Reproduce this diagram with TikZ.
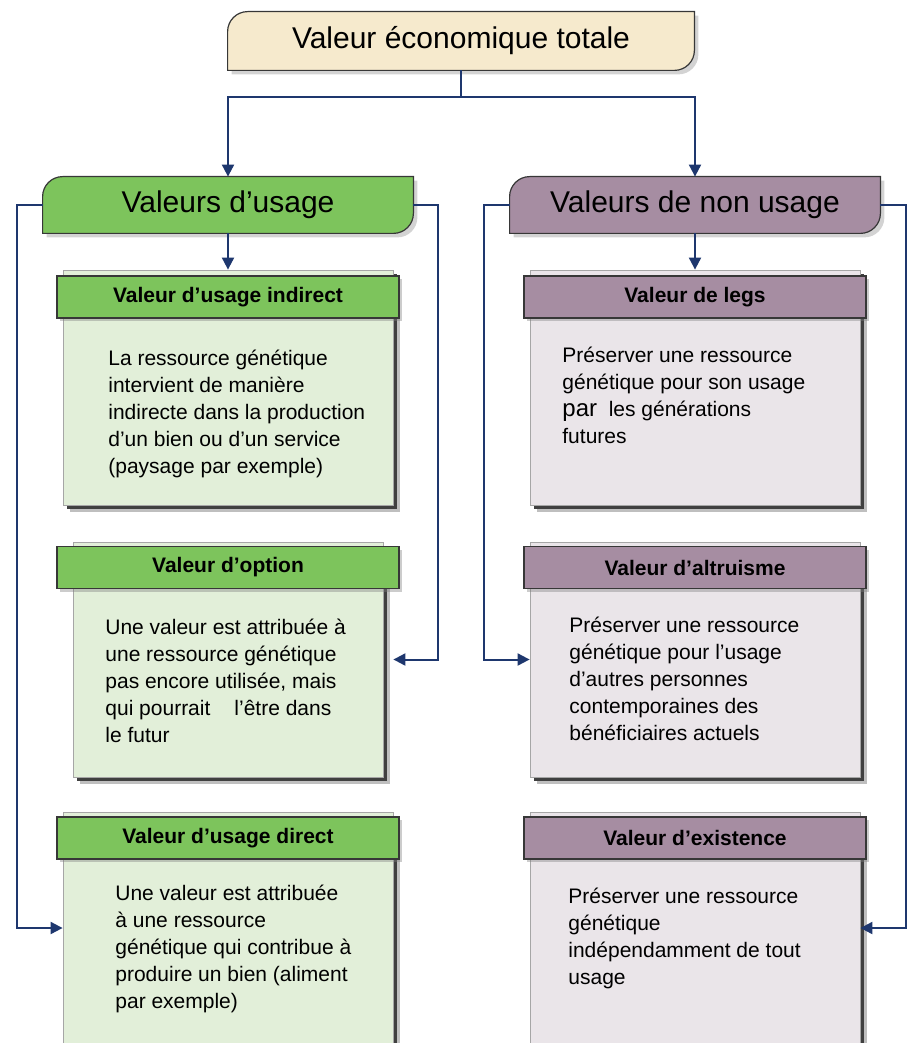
\documentclass[tikz,border=0pt]{standalone}
\usepackage{fontspec}
\setmainfont{Liberation Sans}
\usetikzlibrary{arrows.meta,positioning,shadows,backgrounds}
\definecolor{mynavy}{RGB}{30,55,110}
\definecolor{myedge}{RGB}{55,55,55}
\definecolor{mybeige}{RGB}{246,234,205}
\definecolor{mygreen}{RGB}{125,196,92}
\definecolor{mylightgreen}{RGB}{226,239,217}
\definecolor{mypurple}{RGB}{166,141,162}
\definecolor{mylightpurple}{RGB}{234,229,233}

\begin{document}
\begin{tikzpicture}[x=0.5pt, y=-0.5pt,
    leaf path/.style={insert path={(#1.south west) -- ([yshift=-10pt]#1.north west)
        arc[start angle=180, end angle=90, radius=10pt] -- (#1.north east)
        -- ([yshift=10pt]#1.south east) arc[start angle=0, end angle=-90, radius=10pt] -- cycle}},
    leaf/.style={draw=myedge, line width=0.6pt,
        drop shadow={shadow xshift=2pt, shadow yshift=-2pt, opacity=.35}},
    title/.style={inner sep=0pt, minimum width=185pt, minimum height=28pt,
        font=\fontsize{15}{18}\selectfont},
    sheet/.style={draw=black!35, line width=0.4pt, minimum width=165pt,
        minimum height=117.5pt, inner sep=0pt,
        general shadow={fill=black!25, shadow xshift=3.5pt, shadow yshift=-3.5pt},
        general shadow={fill=black!75, shadow xshift=2pt, shadow yshift=-2pt}},
    tab/.style={draw=myedge, line width=0.6pt, minimum width=171pt, minimum height=21pt,
        inner sep=0pt, font=\fontsize{10.5}{12}\selectfont\bfseries,
        drop shadow={shadow xshift=1.5pt, shadow yshift=-1.5pt, opacity=.4}},
    body/.style={anchor=base west, inner sep=0pt, align=left,
        font=\fontsize{10.5}{13.5}\selectfont},
    flow/.style={-{Triangle[length=6pt, width=6pt]}, line width=1pt, mynavy}
]
\useasboundingbox (0,0) rectangle (911,1043);

\node[title, minimum width=233pt, minimum height=29pt] (vet) at (461,41) {Valeur économique totale};
\node[title] (vu) at (228,205) {Valeurs d’usage};
\node[title] (vnu) at (695,205) {Valeurs de non usage};
\begin{scope}[on background layer]
\filldraw[leaf, fill=mybeige, leaf path=vet];
\filldraw[leaf, fill=mygreen, leaf path=vu];
\filldraw[leaf, fill=mypurple, leaf path=vnu];
\end{scope}

\node[sheet, fill=mylightgreen] (b1) at (228,387.5) {};
\node[tab, fill=mygreen] (h1) at (228,297) {Valeur d’usage indirect};
\node[body] (t1) at (108,473) {La ressource génétique\\intervient de manière\\indirecte dans la production\\d’un bien ou d’un service\\(paysage par exemple)};

\node[sheet, fill=mylightgreen, minimum width=155pt] (b2) at (228,659.5) {};
\node[tab, fill=mygreen] (h2) at (228,567.5) {Valeur d’option};
\node[body] (t2) at (105,742) {Une valeur est attribuée à\\une ressource génétique\\pas encore utilisée, mais\\qui pourrait\hspace{12pt}l’être dans\\le futur};

\node[sheet, fill=mylightgreen, minimum height=116pt] (b3) at (228,928) {};
\node[tab, fill=mygreen] (h3) at (228,838) {Valeur d’usage direct};
\node[body] (t3) at (115,1008) {Une valeur est attribuée\\à une ressource\\génétique qui contribue à\\produire un bien (aliment\\par exemple)};

\node[sheet, fill=mylightpurple] (b4) at (695,387.5) {};
\node[tab, fill=mypurple] (h4) at (695,297) {Valeur de legs};
\node[body] (t4) at (562,443) {Préserver une ressource\\génétique pour son usage\\{\fontsize{12}{13.5}\selectfont par}\ \ les générations\\futures};

\node[sheet, fill=mylightpurple] (b5) at (695,659.5) {};
\node[tab, fill=mypurple] (h5) at (695,567.5) {Valeur d’altruisme};
\node[body] (t5) at (569,740) {Préserver une ressource\\génétique pour l’usage\\d’autres personnes\\contemporaines des\\bénéficiaires actuels};

\node[sheet, fill=mylightpurple, minimum height=116pt] (b6) at (695,928) {};
\node[tab, fill=mypurple] (h6) at (695,838) {Valeur d’existence};
\node[body] (t6) at (568,984) {Préserver une ressource\\génétique\\indépendamment de tout\\usage};

\coordinate (split) at (461,97);
\draw[line width=1pt, mynavy] (vet) -- (split);
\draw[flow] (split) -| (vu);
\draw[flow] (split) -| (vnu);
\draw[flow] (vu) -- (b1);
\draw[flow] (vnu) -- (b4);
\draw[flow] (vu.west) -- ++(-13pt,0) |- (b3);
\draw[flow] (vu.east) -- ++(12.5pt,0) |- ([xshift=5pt]b2.east);
\draw[flow] (vnu.west) -- ++(-13pt,0) |- (b5);
\draw[flow] (vnu.east) -- ++(13pt,0) |- (b6);
\end{tikzpicture}
\end{document}
